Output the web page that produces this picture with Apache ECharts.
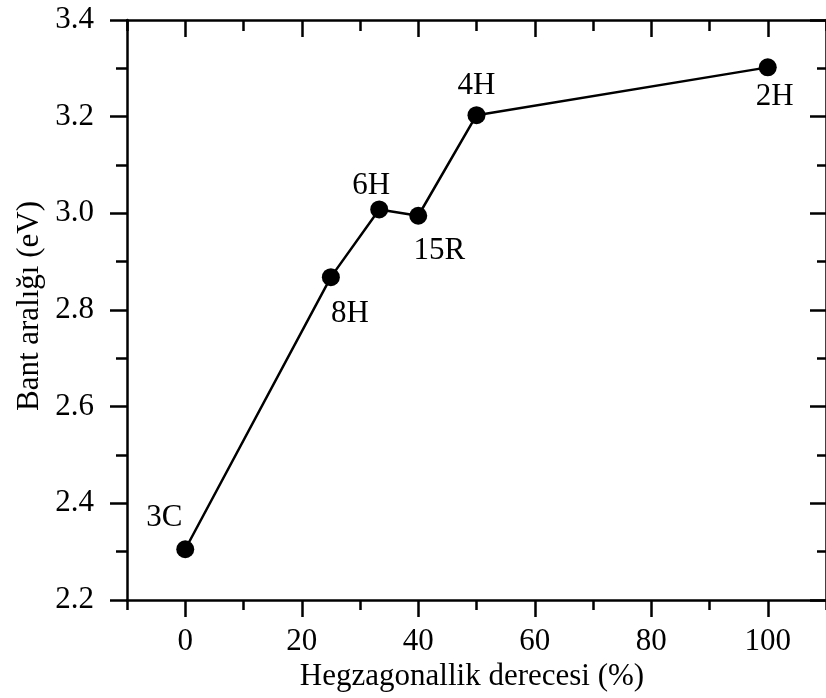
<!DOCTYPE html>
<html>
<head>
<meta charset="utf-8">
<script src="https://cdn.jsdelivr.net/npm/echarts@6/dist/echarts.min.js"></script>
<style>html,body{margin:0;padding:0;background:#fff;}#c{width:826px;height:698px;}</style>
</head>
<body>
<div id="c"></div>
<script>
// Data
var polytypes = ['3C', '8H', '6H', '15R', '4H', '2H'];
var hexagonality = [0, 25, 33.3, 40, 50, 100];
var bandGap = [2.305, 2.868, 3.008, 2.995, 3.203, 3.302];
var xMajorTicks = [0, 20, 40, 60, 80, 100];
var xMinorTicks = [-10, 10, 30, 50, 70, 90, 110];
var xTitle = 'Hegzagonallik derecesi (%)';
var yTitle = 'Bant aralığı (eV)';

var labelOffsets = {
  '3C': [-21, -31], '8H': [19, 37], '6H': [-8, -24],
  '15R': [21, 35], '4H': [0, -29], '2H': [7, 29]
};

var FONT = '"Liberation Serif", "Times New Roman", serif';
var FS = 31;
var chart = echarts.init(document.getElementById('c'));

var data = polytypes.map(function (p, i) {
  return {
    value: [hexagonality[i], bandGap[i]],
    label: { show: true, formatter: p, position: 'inside', offset: labelOffsets[p] }
  };
});

var axisLine = { show: true, onZero: false, lineStyle: { color: '#000', width: 2.5 } };
var gridRect = { left: 127, top: 20, width: 702, height: 580 };

function xAx(pos, ticks, len, inside, labels, line) {
  return {
    type: 'value', position: pos, min: -10, max: 110,
    axisLine: line ? axisLine : { show: false },
    splitLine: { show: false },
    axisTick: { show: true, customValues: ticks, length: len, inside: inside, lineStyle: { color: '#000', width: 2.5 } },
    axisLabel: labels ? {
      show: true, customValues: ticks, margin: 26, color: '#000',
      fontFamily: FONT, fontSize: FS
    } : { show: false }
  };
}

chart.setOption({
  animation: false,
  backgroundColor: '#fff',
  grid: gridRect,
  xAxis: [
    xAx('bottom', xMajorTicks, 17, false, true, true),
    xAx('bottom', xMinorTicks, 10, false, false, false),
    xAx('top', xMajorTicks, 17, true, false, true),
    xAx('top', xMinorTicks, 11, true, false, false)
  ],
  yAxis: [
    {
      type: 'value', position: 'left', min: 2.2, max: 3.4, interval: 0.2,
      axisLine: axisLine, splitLine: { show: false },
      axisTick: { show: true, length: 17, lineStyle: { color: '#000', width: 2.5 } },
      minorTick: { show: true, splitNumber: 2, length: 11, lineStyle: { color: '#000', width: 2.5 } },
      axisLabel: {
        margin: 33, color: '#000', fontFamily: FONT, fontSize: FS,
        formatter: function (v) { return v.toFixed(1); }
      }
    },
    {
      type: 'value', position: 'right', min: 2.2, max: 3.4, interval: 0.2,
      axisLine: axisLine, splitLine: { show: false },
      axisTick: { show: true, inside: true, length: 16, lineStyle: { color: '#000', width: 2.5 } },
      minorTick: { show: true, splitNumber: 2, length: 9, lineStyle: { color: '#000', width: 2.5 } },
      axisLabel: { show: false }
    }
  ],
  graphic: [
    {
      type: 'text', x: 472, y: 677,
      style: { text: xTitle, font: FS + 'px ' + FONT, fill: '#000', align: 'center', verticalAlign: 'middle' }
    },
    {
      type: 'text', x: 30, y: 306, rotation: Math.PI / 2,
      style: { text: yTitle, font: FS + 'px ' + FONT, fill: '#000', align: 'center', verticalAlign: 'middle' }
    }
  ],
  series: [{
    type: 'line',
    data: data,
    symbol: 'circle',
    symbolSize: 18,
    itemStyle: { color: '#000' },
    lineStyle: { color: '#000', width: 2.5 },
    label: { color: '#000', fontFamily: FONT, fontSize: FS }
  }]
});
</script>
</body>
</html>
